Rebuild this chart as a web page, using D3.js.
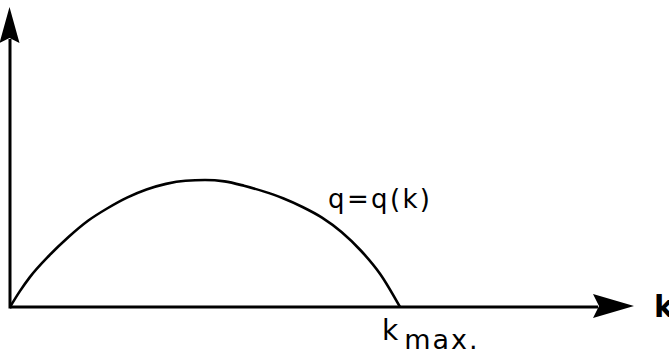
<!DOCTYPE html>
<html>
<head>
<meta charset="utf-8">
<script src="https://cdn.jsdelivr.net/npm/d3@7"></script>
<style>
  html, body { margin: 0; padding: 0; background: #fff; }
  svg { display: block; }
  text { font-family: "DejaVu Sans", sans-serif; fill: #000; }
</style>
</head>
<body>
<div id="chart"></div>
<script>
var kValues = [0, 0.025, 0.05, 0.1, 0.15, 0.2, 0.25, 0.3, 0.35, 0.4, 0.45, 0.5, 0.55, 0.6, 0.65, 0.7, 0.75, 0.8, 0.85, 0.9, 0.95, 1];
var qValues = [0, 0.125, 0.235, 0.41, 0.56, 0.69, 0.79, 0.875, 0.94, 0.985, 1.01, 1.016, 1.005, 0.97, 0.925, 0.87, 0.8, 0.715, 0.6, 0.45, 0.26, 0];
var kMax = 1;
var kEnd = 1.6;   // end of the k axis (arrow tip)
var qEnd = 2.4;   // end of the q axis (arrow tip)

var width = 669, height = 356;

var x = d3.scaleLinear().domain([0, kEnd]).range([10, 634]);
var y = d3.scaleLinear().domain([0, qEnd]).range([307, 7]);

var svg = d3.select("#chart").append("svg")
    .attr("width", width)
    .attr("height", height);

// axes lines, stopped at the back of the arrow heads
svg.append("line")
    .attr("x1", x(0)).attr("y1", y(0))
    .attr("x2", x(kEnd) - 36).attr("y2", y(0))
    .attr("stroke", "#000").attr("stroke-width", 3);

svg.append("line")
    .attr("x1", x(0)).attr("y1", y(0) + 1.5)
    .attr("x2", x(0)).attr("y2", y(qEnd) + 32)
    .attr("stroke", "#000").attr("stroke-width", 3);

// arrow heads
var xHead = [[0, 0], [-41, -12], [-35, 0], [-41, 12]];
svg.append("path")
    .attr("d", "M" + xHead.join("L") + "Z")
    .attr("transform", "translate(" + x(kEnd) + "," + (y(0) - 1) + ")")
    .attr("fill", "#000");

var yHead = [[0, 0], [-10, 36], [0, 31], [10, 36]];
svg.append("path")
    .attr("d", "M" + yHead.join("L") + "Z")
    .attr("transform", "translate(" + (x(0) - 0.5) + "," + y(qEnd) + ")")
    .attr("fill", "#000");

// the curve
var line = d3.line()
    .x(function(d, i) { return x(kValues[i]); })
    .y(function(d, i) { return y(qValues[i]); })
    .curve(d3.curveMonotoneX);

svg.append("path")
    .datum(kValues)
    .attr("d", line)
    .attr("fill", "none")
    .attr("stroke", "#000")
    .attr("stroke-width", 2.6);

// labels
svg.append("text")
    .attr("x", 328).attr("y", 208)
    .attr("font-size", 26)
    .attr("textLength", 102)
    .attr("lengthAdjust", "spacing")
    .text("q=q(k)");

svg.append("text")
    .attr("x", 654).attr("y", 317)
    .attr("font-size", 30)
    .attr("font-weight", "bold")
    .text("k");

var km = svg.append("text")
    .attr("x", x(kMax) - 18).attr("y", 340)
    .attr("font-size", 28);
km.append("tspan").text("k");
km.append("tspan")
    .attr("dx", 6).attr("dy", 9)
    .attr("font-size", 27)
    .attr("letter-spacing", 2)
    .text("max.");
</script>
</body>
</html>
